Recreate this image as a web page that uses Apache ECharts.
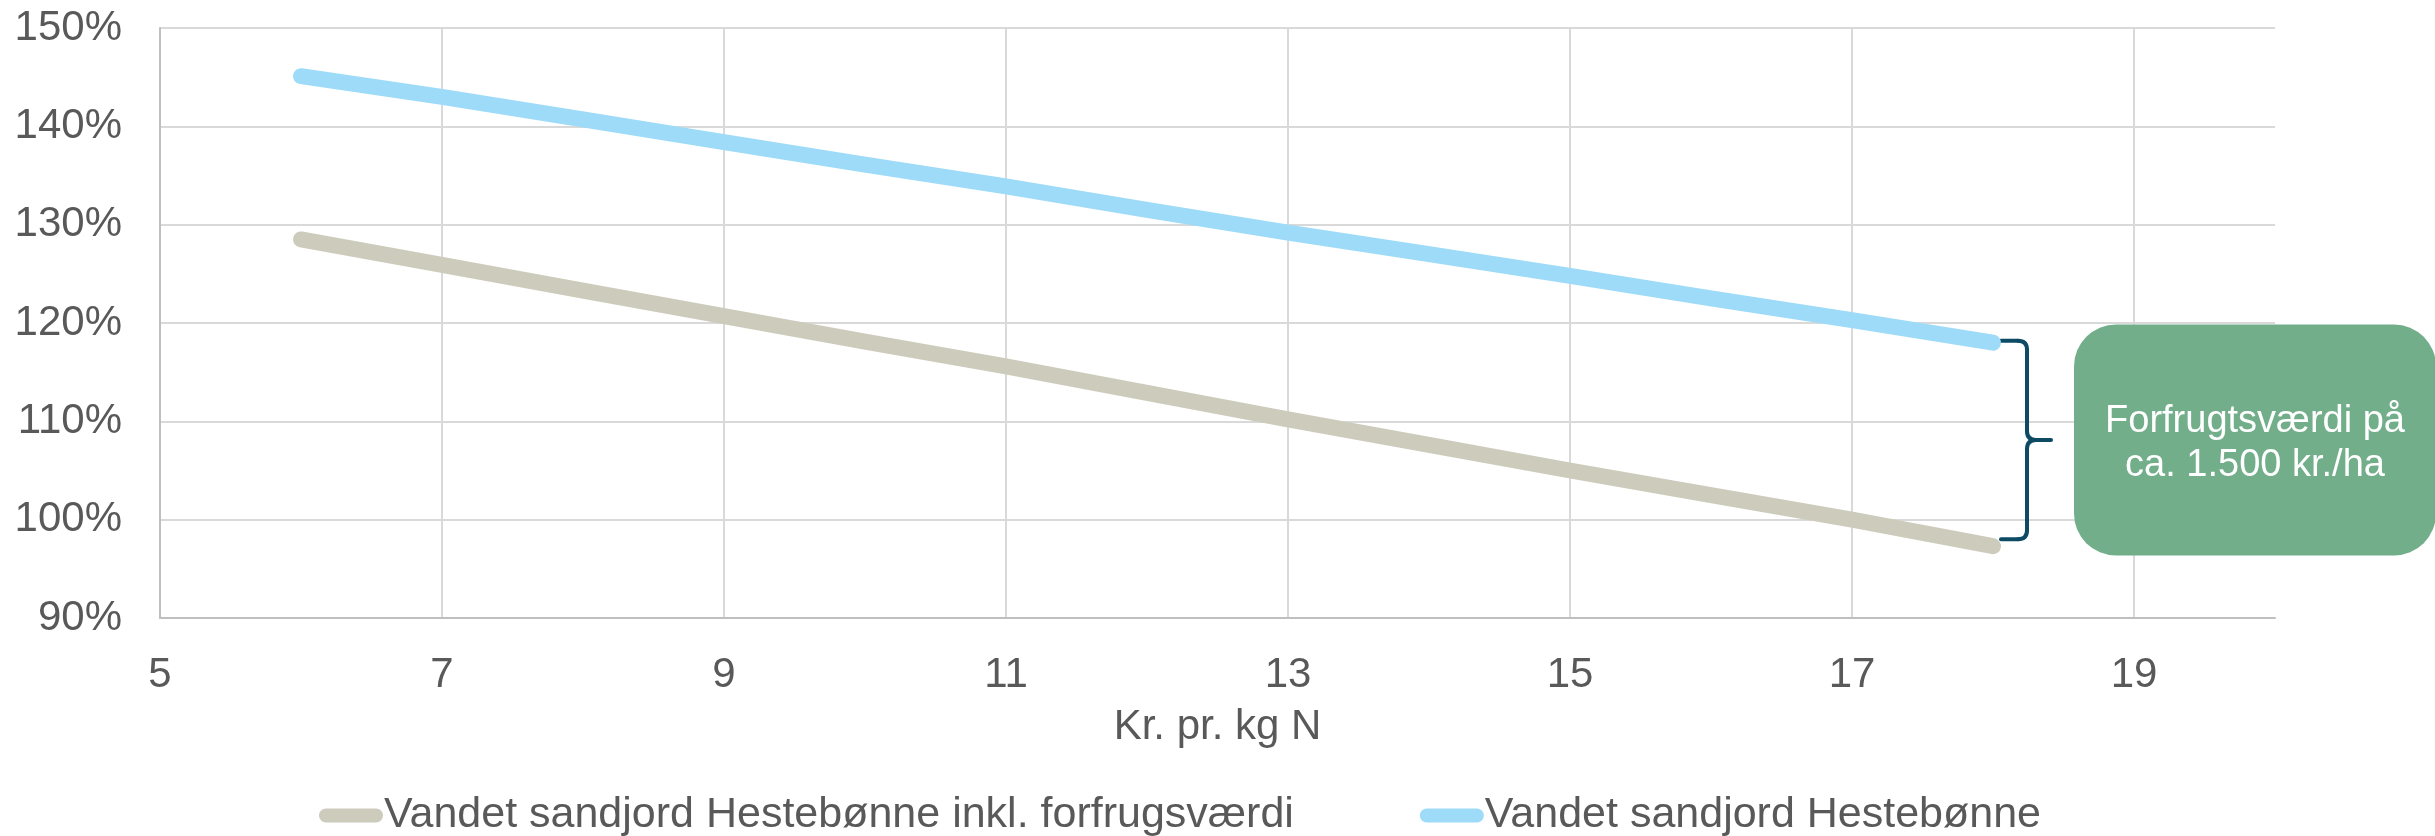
<!DOCTYPE html>
<html><head><meta charset="utf-8">
<script src="https://cdn.jsdelivr.net/npm/echarts@6/dist/echarts.min.js"></script>
<style>html,body{margin:0;padding:0;background:#fff}#c{width:2435px;height:836px}</style>
</head><body><div id="c"></div>
<script>
// X values (Kr. pr. kg N)
const xValues = [6, 7, 8, 9, 10, 11, 12, 13, 14, 15, 16, 17, 18];
// Series values (%)
const inklForfrugt = [128.5, 125.9, 123.3, 120.7, 118.1, 115.6, 112.9, 110.2, 107.6, 105.0, 102.5, 100.0, 97.3];
const hestebonne   = [145.1, 143.0, 140.7, 138.4, 136.1, 133.9, 131.5, 129.2, 127.0, 124.8, 122.5, 120.3, 118.0];
const seriesNames = ['Vandet sandjord Hestebønne inkl. forfrugsværdi', 'Vandet sandjord Hestebønne'];
const xAxisName = 'Kr. pr. kg N';
const xMin = 5, xMax = 20, xInterval = 2;
const yMin = 90, yMax = 150, yInterval = 10;
const annotationLines = ['Forfrugtsværdi på', 'ca. 1.500 kr./ha'];

(function () {
const FONT = "'Liberation Sans', Arial, sans-serif";
const TXT = '#595959';
const chart = echarts.init(document.getElementById('c'), null, {renderer: 'canvas'});

const pill = 'path://M7,0 L57,0 A7,7 0 0 1 57,14 L7,14 A7,7 0 0 1 7,0 Z';

chart.setOption({
  animation: false,
  backgroundColor: '#fff',
  grid: {left: 160, right: 160, top: 28, bottom: 218, containLabel: false},
  xAxis: {
    type: 'value', min: xMin, max: xMax, interval: xInterval,
    name: xAxisName, nameLocation: 'middle', nameGap: 88,
    nameTextStyle: {color: TXT, fontSize: 42, fontFamily: FONT},
    axisLine: {show: true, lineStyle: {color: '#bfbfbf', width: 2}},
    axisTick: {show: false},
    axisLabel: {color: TXT, fontSize: 42, fontFamily: FONT, margin: 36, showMaxLabel: false},
    splitLine: {show: true, showMaxLine: false, showMinLine: false, lineStyle: {color: '#d9d9d9', width: 2}}
  },
  yAxis: {
    type: 'value', min: yMin, max: yMax, interval: yInterval,
    axisLine: {show: true, lineStyle: {color: '#bfbfbf', width: 2}},
    axisTick: {show: false},
    axisLabel: {color: TXT, fontSize: 42, fontFamily: FONT, margin: 38, formatter: '{value}%'},
    splitLine: {show: true, showMinLine: false, lineStyle: {color: '#d9d9d9', width: 2}}
  },
  legend: {
    left: 314, top: 789, itemGap: 126, itemWidth: 64, itemHeight: 14,
    icon: pill,
    textStyle: {color: TXT, fontSize: 43, fontFamily: FONT, padding: [0, 0, 0, -4]},
    data: seriesNames
  },
  series: [
    {
      name: seriesNames[0], type: 'line', showSymbol: false, symbol: 'none',
      data: xValues.map((x, i) => [x, inklForfrugt[i]]),
      itemStyle: {color: '#CDCCBC'},
      lineStyle: {color: '#CDCCBC', width: 16, cap: 'round', join: 'round'}
    },
    {
      name: seriesNames[1], type: 'line', showSymbol: false, symbol: 'none',
      data: xValues.map((x, i) => [x, hestebonne[i]]),
      itemStyle: {color: '#9DDBF8'},
      lineStyle: {color: '#9DDBF8', width: 16, cap: 'round', join: 'round'}
    }
  ]
});

// Annotation anchored to the series end points
const last = xValues.length - 1;
const pTop = chart.convertToPixel({gridIndex: 0}, [xValues[last], hestebonne[last]]);
const pBot = chart.convertToPixel({gridIndex: 0}, [xValues[last], inklForfrugt[last]]);
const x0 = pTop[0] + 8;
const yTop = pTop[1] - 2;
const yBot = pBot[1] - 7;
const yMid = (yTop + yBot) / 2;
const xv = x0 + 26, xt = x0 + 50, r = 9;
const braceStyle = {stroke: '#0D4A64', lineWidth: 4, fill: null, lineCap: 'round'};
const boxLeft = x0 + 73, boxW = 362, boxH = 231;

chart.setOption({
  graphic: [
    {type: 'line', shape: {x1: x0, y1: yTop, x2: xv - r, y2: yTop}, style: braceStyle},
    {type: 'bezierCurve', shape: {x1: xv - r, y1: yTop, cpx1: xv, cpy1: yTop, x2: xv, y2: yTop + r}, style: braceStyle},
    {type: 'line', shape: {x1: xv, y1: yTop + r, x2: xv, y2: yMid - r}, style: braceStyle},
    {type: 'bezierCurve', shape: {x1: xv, y1: yMid - r, cpx1: xv, cpy1: yMid, x2: xv + r, y2: yMid}, style: braceStyle},
    {type: 'line', shape: {x1: xv + r, y1: yMid, x2: xt, y2: yMid}, style: braceStyle},
    {type: 'bezierCurve', shape: {x1: xv + r, y1: yMid, cpx1: xv, cpy1: yMid, x2: xv, y2: yMid + r}, style: braceStyle},
    {type: 'line', shape: {x1: xv, y1: yMid + r, x2: xv, y2: yBot - r}, style: braceStyle},
    {type: 'bezierCurve', shape: {x1: xv, y1: yBot - r, cpx1: xv, cpy1: yBot, x2: xv - r, y2: yBot}, style: braceStyle},
    {type: 'line', shape: {x1: xv - r, y1: yBot, x2: x0, y2: yBot}, style: braceStyle},
    {type: 'rect', shape: {x: boxLeft, y: yMid - boxH / 2, width: boxW, height: boxH, r: 42},
      style: {fill: '#72AE8A'}, z: 10},
    {type: 'text', x: boxLeft + boxW / 2, y: yMid + 4, z: 11,
      style: {text: annotationLines.join('\n'), fill: '#ffffff', font: '38px ' + FONT,
        align: 'center', verticalAlign: 'middle', lineHeight: 44}}
  ]
});
})();
</script>
</body></html>
